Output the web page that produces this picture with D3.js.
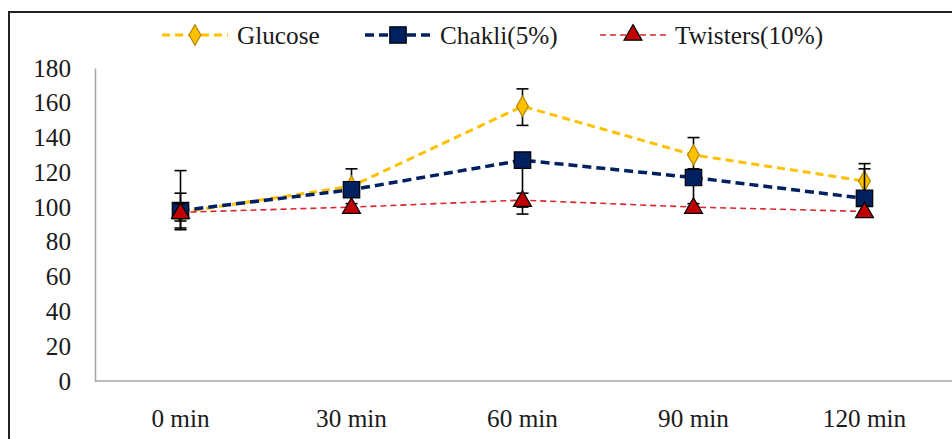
<!DOCTYPE html>
<html><head><meta charset="utf-8">
<script src="https://cdn.jsdelivr.net/npm/d3@7"></script>
<style>html,body{margin:0;padding:0;background:#fff;}svg{display:block;}</style>
</head><body>
<svg id="chart" width="952" height="439"></svg>
<script>
const categories = ["0 min", "30 min", "60 min", "90 min", "120 min"];
const yTicks = [0, 20, 40, 60, 80, 100, 120, 140, 160, 180];
const seriesNames = ["Glucose", "Chakli(5%)", "Twisters(10%)"];
const glucose = [97, 112, 158, 130, 115];
const glucoseErrUp = [24, 10, 10, 10, 10];
const glucoseErrDown = [10, 4, 11, 12, 10];
const chakli = [98, 110, 127, 117, 105];
const chakliErrUp = [10, 3, 3, 5, 17];
const chakliErrDown = [10, 3, 31, 17, 8];
const twisters = [97, 100, 104, 100, 97.5];
const twistersErrUp = [5, 2, 4, 2, 3];
const twistersErrDown = [5, 2, 4, 2, 3];

const svg = d3.select("#chart");
const FONT = "'Liberation Serif','Times New Roman',serif";
const SX = 1.03;
const FS = 24.5;

// outer frame
svg.append("rect").attr("x", 9).attr("y", 12).attr("width", 960).attr("height", 450)
  .attr("fill", "none").attr("stroke", "#222").attr("stroke-width", 2);

const x = d3.scalePoint().domain(categories).range([95, 950]).padding(0.5);
const y = d3.scaleLinear().domain([0, 180]).range([381, 68]);

// axes
const yAxis = svg.append("g").attr("transform", "translate(95,0)")
  .call(d3.axisLeft(y).tickValues(yTicks).tickSize(0).tickPadding(0).tickFormat(d3.format("d")));
yAxis.select(".domain").attr("stroke", "#a6a6a6").attr("stroke-width", 1.5);
yAxis.selectAll(".tick text").remove();
yTicks.forEach(t => {
  svg.append("text").attr("transform", `translate(71,${y(t)}) scale(${SX},1)`)
    .attr("text-anchor", "end").attr("dy", "0.35em")
    .attr("font-family", FONT).attr("font-size", FS).attr("fill", "#1a1a1a").text(t);
});

const xAxis = svg.append("g").attr("transform", "translate(0,381)")
  .call(d3.axisBottom(x).tickSize(0).tickSizeOuter(0));
xAxis.select(".domain").attr("d", "M95,0H952").attr("stroke", "#a6a6a6").attr("stroke-width", 1.5);
xAxis.selectAll(".tick text").remove();
categories.forEach(c => {
  svg.append("text").attr("transform", `translate(${x(c)},418) scale(${SX},1)`)
    .attr("text-anchor", "middle").attr("dy", "0.35em")
    .attr("font-family", FONT).attr("font-size", FS).attr("fill", "#1a1a1a").text(c);
});

const series = [
  {name: seriesNames[0], vals: glucose, up: glucoseErrUp, down: glucoseErrDown, color: "#FFC000",
   width: 3, dash: "8,5", sym: d3.symbolDiamond, size: 120, fill: "#FFC000", stroke: "#b38600", legX: 162},
  {name: seriesNames[1], vals: chakli, up: chakliErrUp, down: chakliErrDown, color: "#002060",
   width: 3.5, dash: "9,5", sym: d3.symbolSquare, size: 270, fill: "#002060", stroke: "#000", legX: 365},
  {name: seriesNames[2], vals: twisters, up: twistersErrUp, down: twistersErrDown, color: "#d9262b",
   width: 1.6, dash: "6,4", sym: d3.symbolTriangle, size: 140, fill: "#C00000", stroke: "#000", legX: 600},
];

const line = d3.line().x((d, i) => x(categories[i])).y(d => y(d));

series.forEach(s => {
  svg.append("path").datum(s.vals).attr("d", line).attr("fill", "none")
    .attr("stroke", s.color).attr("stroke-width", s.width).attr("stroke-dasharray", s.dash);
  const eb = svg.append("g");
  s.vals.forEach((v, i) => {
    const cx = x(categories[i]);
    const yt = y(v + s.up[i]), yb = y(v - s.down[i]);
    eb.append("line").attr("x1", cx).attr("x2", cx).attr("y1", yt).attr("y2", yb)
      .attr("stroke", "#000").attr("stroke-width", 1.6);
    [yt, yb].forEach(yy => eb.append("line").attr("x1", cx - 6).attr("x2", cx + 6)
      .attr("y1", yy).attr("y2", yy).attr("stroke", "#000").attr("stroke-width", 1.6));
  });
  svg.append("g").selectAll("path").data(s.vals).join("path")
    .attr("d", d3.symbol().type(s.sym).size(s.size))
    .attr("transform", (d, i) => `translate(${x(categories[i])},${y(d) + (s.sym === d3.symbolTriangle ? 1 : 0)})`)
    .attr("fill", s.fill).attr("stroke", s.stroke).attr("stroke-width", 1.2);

  // legend
  const ly = 35;
  svg.append("line").attr("x1", s.legX).attr("x2", s.legX + 66).attr("y1", ly).attr("y2", ly)
    .attr("stroke", s.color).attr("stroke-width", s.width).attr("stroke-dasharray", s.dash);
  svg.append("path").attr("d", d3.symbol().type(s.sym).size(s.size))
    .attr("transform", `translate(${s.legX + 33},${ly})`)
    .attr("fill", s.fill).attr("stroke", s.stroke).attr("stroke-width", 1.2);
  svg.append("text").attr("transform", `translate(${s.legX + 75},${ly}) scale(${SX},1)`)
    .attr("dy", "0.35em").attr("font-family", FONT).attr("font-size", FS).attr("fill", "#1a1a1a").text(s.name);
});
</script>
</body></html>
